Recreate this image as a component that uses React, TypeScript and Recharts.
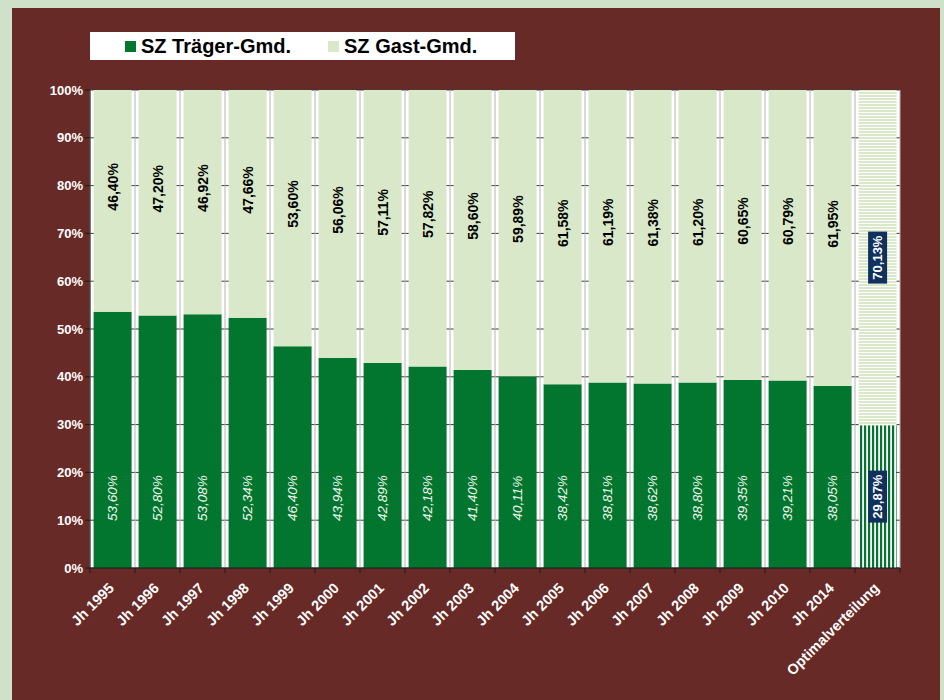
import { BarChart, Bar, XAxis, YAxis, CartesianGrid, Legend, LabelList, Cell } from "recharts";

const categories = [
  "Jh 1995", "Jh 1996", "Jh 1997", "Jh 1998", "Jh 1999", "Jh 2000", "Jh 2001", "Jh 2002", "Jh 2003",
  "Jh 2004", "Jh 2005", "Jh 2006", "Jh 2007", "Jh 2008", "Jh 2009", "Jh 2010", "Jh 2014", "Optimalverteilung",
];
const seriesNames = ["SZ Träger-Gmd.", "SZ Gast-Gmd."];
const traeger = [53.6, 52.8, 53.08, 52.34, 46.4, 43.94, 42.89, 42.18, 41.4, 40.11, 38.42, 38.81, 38.62, 38.8, 39.35, 39.21, 38.05, 29.87];
const gast = [46.4, 47.2, 46.92, 47.66, 53.6, 56.06, 57.11, 57.82, 58.6, 59.89, 61.58, 61.19, 61.38, 61.2, 60.65, 60.79, 61.95, 70.13];
const yTicks = [0, 10, 20, 30, 40, 50, 60, 70, 80, 90, 100];

const rows = categories.map((name, i) => ({ name, traeger: traeger[i], gast: gast[i] }));
const n = categories.length;
const lastIdx = n - 1;
const boundaries = Array.from({ length: n + 1 }, (_, i) => i);

const CHART_W = 928;
const CHART_H = 692;
const MARGIN = { top: 82, right: 40, left: 18, bottom: 0 };
const Y_W = 60;
const BAND = (CHART_W - MARGIN.left - MARGIN.right - Y_W) / n;

const FONT = "'Liberation Sans', Arial, sans-serif";
const DARK = "#02762f";
const LIGHT = "#d8e8c9";
const fmt = (v: number) => v.toFixed(2).replace(".", ",") + "%";

function OptLabel({ cx, cy, text }: { cx: number; cy: number; text: string }) {
  return (
    <g>
      <rect x={cx - 9.5} y={cy - 26} width={19} height={52} fill="#10305e" />
      <text x={cx} y={cy} transform={`rotate(-90 ${cx} ${cy})`} textAnchor="middle" dominantBaseline="central"
        fill="#fff" fontSize={13} fontWeight={700} fontFamily={FONT}>{text}</text>
    </g>
  );
}

// eslint-disable-next-line @typescript-eslint/no-explicit-any
function TopLabel(p: any) {
  const { x, y, width, height, value, index } = p;
  const cx = x + width / 2;
  if (index === lastIdx) return <OptLabel cx={cx} cy={y + height / 2} text={fmt(value)} />;
  const cy = y + height / 2 - 14;
  return (
    <text x={cx} y={cy} transform={`rotate(-90 ${cx} ${cy})`} textAnchor="middle" dominantBaseline="central"
      fill="#000" fontSize={14} fontWeight={700} fontFamily={FONT}>{fmt(value)}</text>
  );
}

// eslint-disable-next-line @typescript-eslint/no-explicit-any
function BottomLabel(p: any) {
  const { x, y, width, height, value, index } = p;
  const cx = x + width / 2;
  if (index === lastIdx) return <OptLabel cx={cx} cy={y + height / 2} text={fmt(value)} />;
  const cy = y + height - 70;
  return (
    <text x={cx} y={cy} transform={`rotate(-90 ${cx} ${cy})`} textAnchor="middle" dominantBaseline="central"
      fill="#f2f6ee" fontSize={13.5} fontStyle="italic" fontFamily={FONT}>{fmt(value)}</text>
  );
}

// rotated category name plus tick marks on the category boundaries
// eslint-disable-next-line @typescript-eslint/no-explicit-any
function XTick({ x, y, payload, index }: any) {
  const tx = x + 2.5;
  const ty = y + 21;
  const left = x - BAND / 2;
  return (
    <g>
      <line x1={left} x2={left} y1={y} y2={y + 5} stroke="#1a1a1a" />
      {index === lastIdx && <line x1={x + BAND / 2} x2={x + BAND / 2} y1={y} y2={y + 5} stroke="#1a1a1a" />}
      <text x={tx} y={ty} transform={`rotate(-45 ${tx} ${ty})`} textAnchor="end" fill="#fff"
        fontSize={14.5} fontWeight={700} fontFamily={FONT}>{payload.value}</text>
    </g>
  );
}

// eslint-disable-next-line @typescript-eslint/no-explicit-any
function LegendBox({ payload }: any) {
  const items = [...(payload || [])].sort(
    (a: any, b: any) => seriesNames.indexOf(a.value) - seriesNames.indexOf(b.value)
  );
  return (
    <div style={{ background: "#fff", width: 425, height: 28, display: "flex", alignItems: "center",
      paddingLeft: 35, boxSizing: "border-box", fontFamily: FONT, fontWeight: 700, fontSize: 20, color: "#000" }}>
      {items.map((e: any, i: number) => (
        <div key={i} style={{ display: "flex", alignItems: "center", marginRight: 37 }}>
          <span style={{ width: 11, height: 11, background: e.color, marginRight: 5, display: "inline-block" }} />
          <span style={{ lineHeight: "20px" }}>{e.value}</span>
        </div>
      ))}
    </div>
  );
}

// eslint-disable-next-line @typescript-eslint/no-explicit-any
const boundaryLines = ({ offset }: any) => boundaries.map((b) => offset.left + (b * offset.width) / n);

export default function App() {
  return (
    <div style={{ position: "absolute", left: 0, top: 0, width: 944, height: 700, background: "#cfe1c8" }}>
      <div style={{ position: "absolute", left: 12, top: 8, width: CHART_W, height: CHART_H, background: "#682a26" }}>
        <BarChart width={CHART_W} height={CHART_H} data={rows} margin={MARGIN} barCategoryGap="8%">
          <defs>
            <pattern id="patV" width={4} height={4} patternUnits="userSpaceOnUse">
              <rect width={4} height={4} fill="#fff" />
              <rect width={2.2} height={4} fill={DARK} />
            </pattern>
            <pattern id="patH" width={4} height={3} patternUnits="userSpaceOnUse">
              <rect width={4} height={3} fill="#fff" />
              <rect width={4} height={2} fill={LIGHT} />
            </pattern>
          </defs>
          <CartesianGrid xAxisId="cat" vertical={false} fill="#fff" stroke="#3a3a3a" />
          <CartesianGrid xAxisId="cat" horizontal={false} stroke="#b4b4b4" verticalCoordinatesGenerator={boundaryLines} />
          <XAxis xAxisId="cat" dataKey="name" interval={0} height={132} tickSize={0} tickMargin={0}
            tickLine={false} axisLine={{ stroke: "#1a1a1a" }} tick={<XTick />} />
          <YAxis domain={[0, 100]} ticks={yTicks} tickFormatter={(v) => `${v}%`} width={Y_W} tickSize={5}
            axisLine={{ stroke: "#1a1a1a" }} tickLine={{ stroke: "#1a1a1a" }}
            tick={{ fill: "#fff", fontSize: 13, fontWeight: 700, fontFamily: FONT }} />
          <Legend verticalAlign="middle" align="center" layout="horizontal" content={<LegendBox />}
            wrapperStyle={{ top: 24, left: 78, width: 425, height: 28 }} />
          <Bar xAxisId="cat" dataKey="traeger" name={seriesNames[0]} stackId="a" fill={DARK} isAnimationActive={false}>
            {rows.map((r, i) => (
              <Cell key={r.name} fill={i === lastIdx ? "url(#patV)" : DARK} />
            ))}
            <LabelList dataKey="traeger" content={<BottomLabel />} />
          </Bar>
          <Bar xAxisId="cat" dataKey="gast" name={seriesNames[1]} stackId="a" fill={LIGHT} isAnimationActive={false}>
            {rows.map((r, i) => (
              <Cell key={r.name} fill={i === lastIdx ? "url(#patH)" : LIGHT} />
            ))}
            <LabelList dataKey="gast" content={<TopLabel />} />
          </Bar>
        </BarChart>
      </div>
    </div>
  );
}
